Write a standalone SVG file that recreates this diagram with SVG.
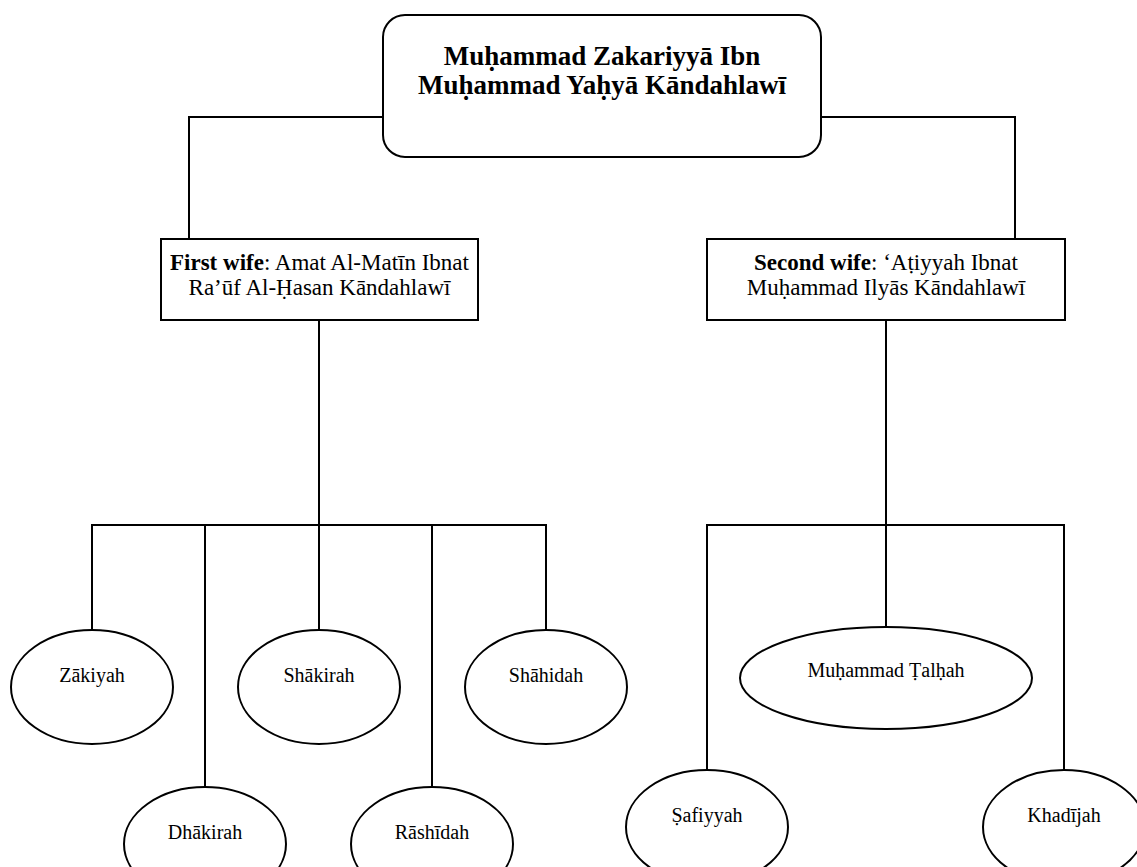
<svg xmlns="http://www.w3.org/2000/svg" width="1137" height="867" viewBox="0 0 1137 867">
<style>
.box{fill:#fff;stroke:#000;stroke-width:2}
.ell{fill:#fff;stroke:#000;stroke-width:2}
.ln{fill:none;stroke:#000;stroke-width:2}
.t{font-family:"Liberation Serif","Times New Roman",serif;fill:#000;text-anchor:middle}
.title{font-size:27px;font-weight:bold}
.wife{font-size:23px}
.child{font-size:20px}
</style>
<rect width="1137" height="867" fill="#fff"/>
<g id="connectors">
<polyline class="ln" points="383,117 189,117 189,239"/>
<polyline class="ln" points="821,117 1015,117 1015,239"/>
<line class="ln" x1="319" y1="320" x2="319" y2="630"/>
<polyline class="ln" points="92,630 92,525 546,525 546,630"/>
<line class="ln" x1="205" y1="525" x2="205" y2="787"/>
<line class="ln" x1="432" y1="525" x2="432" y2="787"/>
<line class="ln" x1="886" y1="320" x2="886" y2="627"/>
<polyline class="ln" points="707,770 707,525 1064,525 1064,770"/>
</g>
<g id="root">
<rect class="box" x="383" y="15" width="438" height="142" rx="22"/>
<text class="t title" x="602" y="65">Muḥammad Zakariyyā Ibn</text>
<text class="t title" x="602" y="94">Muḥammad Yaḥyā Kāndahlawī</text>
</g>
<g id="wife1">
<rect class="box" x="161" y="239" width="317" height="81"/>
<text class="t wife" x="319.5" y="270"><tspan font-weight="bold">First wife</tspan>: Amat Al-Matīn Ibnat</text>
<text class="t wife" x="319.5" y="295">Ra’ūf Al-Ḥasan Kāndahlawī</text>
</g>
<g id="wife2">
<rect class="box" x="707" y="239" width="358" height="81"/>
<text class="t wife" x="886" y="270"><tspan font-weight="bold">Second wife</tspan>: ‘Aṭiyyah Ibnat</text>
<text class="t wife" x="886" y="295">Muḥammad Ilyās Kāndahlawī</text>
</g>
<g id="zakiyah"><ellipse class="ell" cx="92" cy="687" rx="81" ry="57"/><text class="t child" x="92" y="682">Zākiyah</text></g>
<g id="shakirah"><ellipse class="ell" cx="319" cy="687" rx="81" ry="57"/><text class="t child" x="319" y="682">Shākirah</text></g>
<g id="shahidah"><ellipse class="ell" cx="546" cy="687" rx="81" ry="57"/><text class="t child" x="546" y="682">Shāhidah</text></g>
<g id="dhakirah"><ellipse class="ell" cx="205" cy="844" rx="81" ry="57"/><text class="t child" x="205" y="839">Dhākirah</text></g>
<g id="rashidah"><ellipse class="ell" cx="432" cy="844" rx="81" ry="57"/><text class="t child" x="432" y="839">Rāshīdah</text></g>
<g id="talhah"><ellipse class="ell" cx="886" cy="678" rx="146" ry="51"/><text class="t child" x="886" y="677">Muḥammad Ṭalḥah</text></g>
<g id="safiyyah"><ellipse class="ell" cx="707" cy="827" rx="81" ry="57"/><text class="t child" x="707" y="822">Ṣafiyyah</text></g>
<g id="khadijah"><ellipse class="ell" cx="1064" cy="827" rx="81" ry="57"/><text class="t child" x="1064" y="822">Khadījah</text></g>
</svg>
